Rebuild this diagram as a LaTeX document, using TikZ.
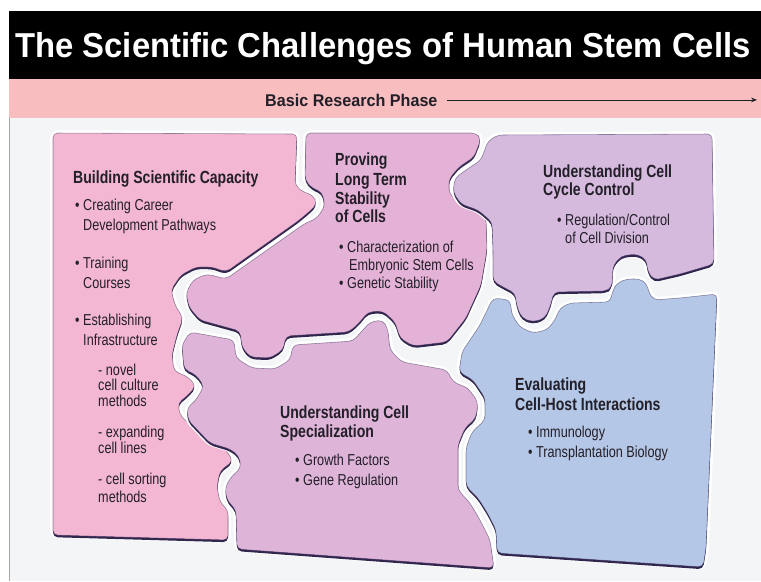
\documentclass[tikz,border=0pt]{standalone}
\usepackage{fontspec}
\setmainfont{Liberation Sans}
\newfontfamily\cnd[FakeStretch=0.8]{Liberation Sans}
\newfontfamily\wde[FakeStretch=0.95]{Liberation Sans}
\usetikzlibrary{arrows.meta}

\definecolor{ink}{RGB}{35,31,40}
\definecolor{bg}{RGB}{243,245,246}
\definecolor{band}{RGB}{247,189,191}
\definecolor{edge}{RGB}{48,38,78}
\definecolor{pinkA}{RGB}{243,183,211}
\definecolor{mauveA}{RGB}{228,178,214}
\definecolor{mauveB}{RGB}{222,180,217}
\definecolor{lilac}{RGB}{213,186,222}
\definecolor{blueA}{RGB}{181,199,230}

% one puzzle piece: white halo, shadow, fill, thin rim
\newcommand\puzzle[2]{%
  \draw[white,line width=5pt,line join=round,rounded corners=4pt] #2;
  \fill[edge,rounded corners=4pt,shift={(0,2.2)}] #2;
  \fill[#1,rounded corners=4pt] #2;
  \draw[edge,opacity=.5,line width=.5pt,line join=round,rounded corners=4pt] #2;}

\begin{document}
\begin{tikzpicture}[x=0.03cm,y=-0.03cm,
  txt/.style={anchor=base west,inner sep=0pt,text=ink,font=\cnd\fontsize{13.5}{16}\selectfont},
  hd/.style={txt,font=\cnd\bfseries\fontsize{15}{17}\selectfont}]
  \useasboundingbox (0,0) rectangle (761,581);
  \fill[bg] (9,79) rectangle (761,581);
  \draw[gray!70,line width=.6pt] (9,79) -- (9,581);
  % header
  \fill[black] (9,11) rectangle (761,79);
  \fill[band] (9,79) rectangle (761,118);
  \node[anchor=base,inner sep=0pt,text=white,font=\wde\bfseries\fontsize{29.5}{32}\selectfont] (title) at (383,57) {The Scientific Challenges of Human Stem Cells};
  \node[anchor=base west,inner sep=0pt,text=ink,font=\wde\bfseries\fontsize{14.5}{16}\selectfont] (phase) at (265,106) {Basic Research Phase};
  \coordinate (arrend) at (757,100);
  \draw[ink,line width=.6pt,shorten <=8pt,-{Stealth[length=5pt,width=4pt]}] (phase.east) -- (phase.east -| arrend);

  % pieces
  \puzzle{pinkA}{(53,133) -- (297,134) -- (296,160) -- (295,185) -- (303,192) -- (313,195) -- (317,204) -- (310,211) -- (298,221) -- (226,272) -- (212,267) -- (196,267) -- (181,275) -- (171,290) -- (175,305) -- (183,318) -- (177,335) -- (172,355) -- (174,371) -- (188,377) -- (196,386) -- (187,396) -- (178,403) -- (180,415) -- (205,440) -- (226,450) -- (233,461) -- (220,471) -- (217,487) -- (220,502) -- (228,510) -- (228,540) -- (53,535) -- cycle}
  \puzzle{mauveA}{(306,133) -- (476,133) -- (481,139) -- (474,157) -- (459,167) -- (449,179) -- (449,193) -- (457,201) -- (472,206) -- (486,218) -- (487,250) -- (481,285) -- (466,318) -- (447,342) -- (413,346) -- (400,338) -- (395,322) -- (383,311) -- (368,312) -- (359,323) -- (349,332) -- (286,336) -- (283,350) -- (270,358) -- (250,357) -- (242,347) -- (240,331) -- (200,320) -- (189,307) -- (186,293) -- (193,280) -- (207,274) -- (226,279) -- (304,224) -- (317,218) -- (325,206) -- (322,192) -- (312,188) -- (305,180) -- cycle}
  \puzzle{lilac}{(498,135) -- (712,134) -- (714,264) -- (680,274) -- (654,280) -- (648,272) -- (646,259) -- (636,254) -- (621,256) -- (613,266) -- (612,287) -- (606,291) -- (554,292) -- (550,307) -- (545,318) -- (533,322) -- (522,318) -- (517,307) -- (515,293) -- (503,287) -- (493,281) -- (493,250) -- (492,222) -- (478,210) -- (461,204) -- (453,192) -- (455,178) -- (466,170) -- (481,160) -- (488,141) -- cycle}
  \puzzle{mauveB}{(190,332) -- (234,340) -- (236,358) -- (252,368) -- (275,369) -- (290,360) -- (293,345) -- (353,341) -- (362,331) -- (370,322) -- (383,320) -- (388,330) -- (390,350) -- (402,362) -- (447,370) -- (453,382) -- (468,388) -- (478,402) -- (476,418) -- (465,428) -- (458,445) -- (458,490) -- (470,503) -- (480,520) -- (490,540) -- (494,568) -- (237,549) -- (236,510) -- (227,500) -- (225,488) -- (231,477) -- (241,468) -- (239,456) -- (230,449) -- (210,443) -- (188,420) -- (187,408) -- (196,400) -- (204,386) -- (196,375) -- (184,369) -- (182,345) -- cycle}
  \puzzle{blueA}{(493,298) -- (510,300) -- (512,315) -- (520,327) -- (533,333) -- (547,330) -- (555,320) -- (560,308) -- (570,303) -- (610,302) -- (613,290) -- (617,283) -- (627,279) -- (640,279) -- (647,284) -- (649,293) -- (654,300) -- (680,298) -- (717,294) -- (706,548) -- (703,567) -- (497,553) -- (496,530) -- (488,514) -- (478,498) -- (466,486) -- (466,448) -- (472,432) -- (485,420) -- (485,398) -- (473,380) -- (459,372) -- (462,352) -- (480,325) -- cycle}

  % building scientific capacity
  \node[hd] (bh) at (73,183) {Building Scientific Capacity};
  \foreach \x/\y/\s [count=\k] in {75/210/{• Creating Career},83/230/{Development Pathways},75/268/{• Training},83/288/{Courses},75/325/{• Establishing},83/345/{Infrastructure},98/375/{- novel},98/390/{cell culture},98/406/{methods},98/437/{- expanding},98/453/{cell lines},98/484/{- cell sorting},98/502/{methods}}
    \node[txt] (b\k) at (\x,\y) {\s};
  % long term stability
  \foreach \y/\s [count=\k] in {165/Proving,185/{Long Term},204/Stability,222/{of Cells}}
    \node[hd] (ph\k) at (335,\y) {\s};
  \foreach \x/\y/\s [count=\k] in {339/252/{• Characterization of},349/270/{Embryonic Stem Cells},339/288/{• Genetic Stability}}
    \node[txt] (p\k) at (\x,\y) {\s};
  % cell cycle
  \foreach \y/\s [count=\k] in {177/{Understanding Cell},195/{Cycle Control}}
    \node[hd] (ch\k) at (543,\y) {\s};
  \foreach \x/\y/\s [count=\k] in {557/225/{• Regulation/Control},565/243/{of Cell Division}}
    \node[txt] (c\k) at (\x,\y) {\s};
  % specialization
  \foreach \y/\s [count=\k] in {418/{Understanding Cell},437/Specialization}
    \node[hd] (sh\k) at (280,\y) {\s};
  \foreach \y/\s [count=\k] in {465/{• Growth Factors},485/{• Gene Regulation}}
    \node[txt] (s\k) at (295,\y) {\s};
  % cell-host
  \foreach \y/\s [count=\k] in {390/Evaluating,410/{Cell-Host Interactions}}
    \node[hd] (eh\k) at (515,\y) {\s};
  \foreach \y/\s [count=\k] in {437/{• Immunology},457/{• Transplantation Biology}}
    \node[txt] (e\k) at (528,\y) {\s};
\end{tikzpicture}
\end{document}
